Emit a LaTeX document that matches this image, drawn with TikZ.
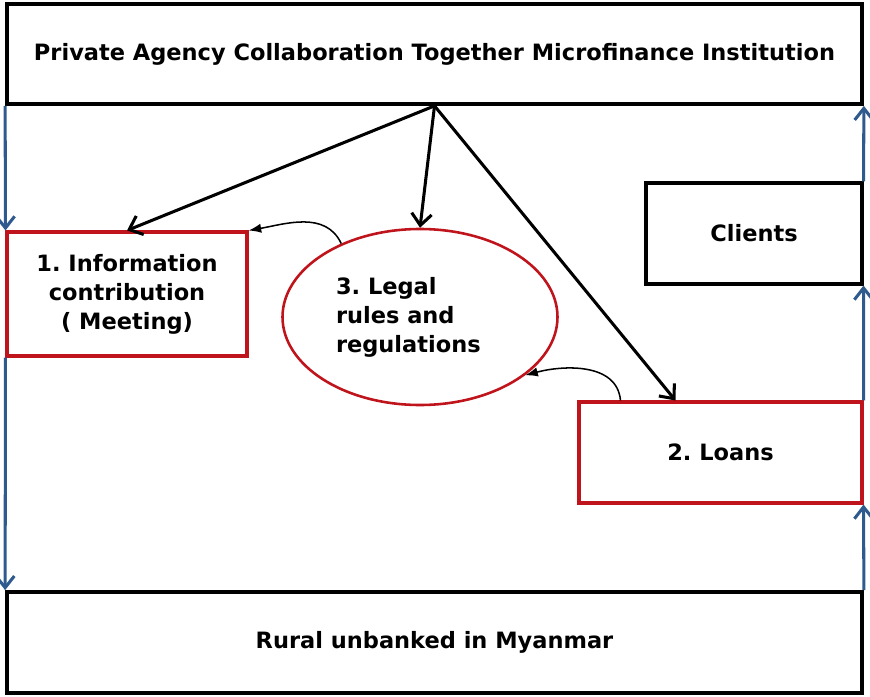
\documentclass[tikz,border=0pt]{standalone}
\usepackage{fontspec}
\setmainfont{DejaVu Sans}
\usepackage{tikz}
\usetikzlibrary{arrows.meta,shapes.geometric}
\usetikzlibrary{positioning,calc}
\definecolor{boxred}{RGB}{192,20,28}
\definecolor{flowblue}{RGB}{47,90,142}
\frenchspacing
\begin{document}
\begin{tikzpicture}[scale=0.3]
\tikzstyle{every node}+=[inner sep=0pt, align=center, font=\fontsize{19.2}{24.8}\selectfont\bfseries]
\tikzstyle{blackbox}=[draw=black, line width=3.2pt, rectangle]
\tikzstyle{redbox}=[draw=boxred, line width=2.6pt, rectangle]
\tikzstyle{blueflow}=[draw=flowblue, line width=2.6pt, -{Straight Barb[length=3.5mm,width=5.5mm]}]
\tikzstyle{blackarrow}=[draw=black, line width=2.6pt, -{Straight Barb[length=3.5mm,width=6mm]}]
\tikzstyle{curvearrow}=[draw=black, line width=1.3pt, -{Latex[length=3.8mm,width=2.8mm]}]
\useasboundingbox (0,0) rectangle (87,-69.7);
\node [blackbox, minimum width=25.65cm, minimum height=3cm] (pact) at (43.45,-5.4) {Private Agency Collaboration Together Microfinance Institution};
\node [blackbox, line width=2.6pt, minimum width=6.48cm, minimum height=3.03cm] (clients) at (75.4,-23.35) {Clients};
\node [redbox, minimum width=7.2cm, minimum height=3.72cm] (info) at (12.7,-29.4) {1. Information\\contribution\\( Meeting)};
\node [redbox, ellipse, line width=2.2pt, minimum width=8.25cm, minimum height=5.28cm, align=left] (legal) at (42,-31.7) {3. Legal\\rules and\\regulations\hspace*{0.7cm}};
\node [redbox, minimum width=8.49cm, minimum height=3.03cm] (loans) at (72.05,-45.25) {2. Loans};
\node [blackbox, minimum width=25.65cm, minimum height=3.03cm] (rural) at (43.45,-64.25) {Rural unbanked in Myanmar};
\draw [blueflow] (pact.south west) -- (info.north west);
\draw [blueflow] (info.south west) -- (rural.north west);
\draw [blueflow] (rural.north east) -- (loans.south east);
\draw [blueflow] (loans.north east) -- (clients.south east);
\draw [blueflow] (clients.north east) -- (pact.south east);
\draw [blackarrow] (pact.south) -- (info.north);
\draw [blackarrow] (pact.south) -- (legal.north);
\draw [blackarrow] (pact.south) -- ([xshift=9.8cm]loans.north west);
\draw [curvearrow] (legal.137) to[out=115,in=10] (info.north east);
\draw [curvearrow] ([xshift=4.3cm]loans.north west) to[out=95,in=15] (legal.-29);
\end{tikzpicture}
\end{document}
